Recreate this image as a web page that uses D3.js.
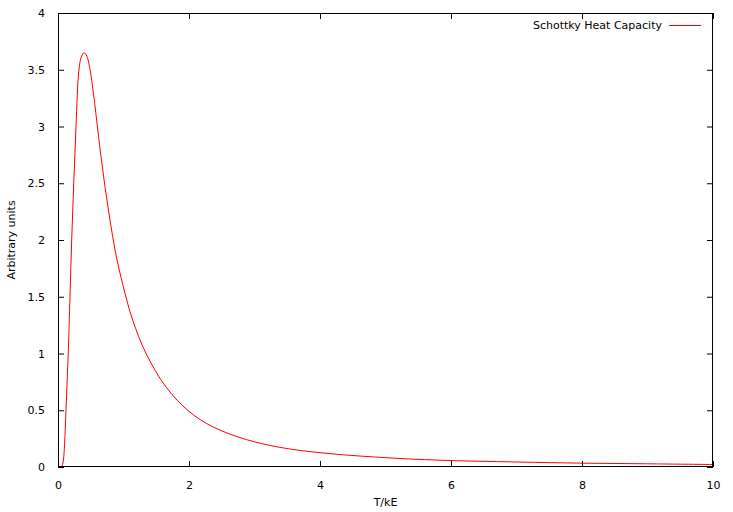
<!DOCTYPE html>
<html>
<head>
<meta charset="utf-8">
<script src="https://cdn.jsdelivr.net/npm/d3@7"></script>
<style>
  html, body { margin: 0; padding: 0; background: #fff; }
  svg { display: block; }
  text { font-family: "DejaVu Sans", sans-serif; font-size: 11px; fill: #000; }
</style>
</head>
<body>
<svg id="chart" width="733" height="512"></svg>
<script>
// Data
const temperature = [0, 0.03, 0.056, 0.08, 0.1, 0.122, 0.14, 0.158, 0.183, 0.209, 0.24, 0.275, 0.32, 0.36, 0.40, 0.44, 0.49, 0.55, 0.59, 0.65, 0.717, 0.794, 0.88, 0.997, 1.14, 1.343, 1.649, 2.0, 2.37, 2.88, 3.39, 4.0, 4.92, 5.83, 7.0, 8.0, 9.0, 10.0];
const heatCapacity = [0, 0, 0.003, 0.05, 0.2, 0.5, 0.76, 1.03, 1.5, 2.0, 2.5, 3.0, 3.5, 3.62, 3.65, 3.62, 3.5, 3.25, 3.057, 2.764, 2.47, 2.176, 1.883, 1.589, 1.295, 1.002, 0.705, 0.49, 0.352, 0.241, 0.173, 0.126, 0.085, 0.06, 0.044, 0.034, 0.028, 0.022];
const xTicks = [0, 2, 4, 6, 8, 10];
const yTicks = [0, 0.5, 1, 1.5, 2, 2.5, 3, 3.5, 4];
const seriesName = "Schottky Heat Capacity";
const xLabel = "T/kE";
const yLabel = "Arbitrary units";

(function () {
const svg = d3.select("#chart");
const mL = 58, mR = 713, mT = 13, mB = 467;

const x = d3.scaleLinear().domain([0, 10]).range([mL, mR]);
const y = d3.scaleLinear().domain([0, 4]).range([mB, mT]);

const tickLen = 6;

// curve
const pts = temperature.map((t, i) => [t, heatCapacity[i]]);
svg.append("path")
  .datum(pts)
  .attr("fill", "none")
  .attr("stroke", "#ff0000")
  .attr("stroke-width", 1)
  .attr("d", d3.line().x(d => x(d[0])).y(d => y(d[1])).curve(d3.curveCatmullRom.alpha(0.5)));

// axes (ticks inward, mirrored)
const axB = svg.append("g").attr("transform", `translate(0,${mB})`)
  .call(d3.axisBottom(x).tickValues(xTicks).tickSize(-tickLen).tickPadding(tickLen + 8).tickFormat(d3.format("d")));
const axT = svg.append("g").attr("transform", `translate(0,${mT})`)
  .call(d3.axisTop(x).tickValues(xTicks).tickSize(-tickLen).tickFormat(""));
const axL = svg.append("g").attr("transform", `translate(${mL},0)`)
  .call(d3.axisLeft(y).tickValues(yTicks).tickSize(-tickLen).tickPadding(tickLen + 7).tickFormat(d => String(d)));
const axR = svg.append("g").attr("transform", `translate(${mR},0)`)
  .call(d3.axisRight(y).tickValues(yTicks).tickSize(-tickLen).tickFormat(""));

[axB, axT, axL, axR].forEach(g => {
  g.select(".domain").remove();
  g.selectAll("line").attr("stroke", "#000").attr("stroke-width", 1);
  g.selectAll("text").attr("font-family", "DejaVu Sans, sans-serif").attr("font-size", 11).attr("fill", "#000");
});

// border
svg.append("rect")
  .attr("x", mL + 0.5).attr("y", mT + 0.5)
  .attr("width", mR - mL - 1).attr("height", mB - mT - 1)
  .attr("fill", "none").attr("stroke", "#000").attr("stroke-width", 1);

// axis labels
svg.append("text").attr("x", (mL + mR) / 2).attr("y", 506)
  .attr("text-anchor", "middle").text(xLabel);
svg.append("text")
  .attr("transform", `translate(15,${(mT + mB) / 2}) rotate(-90)`)
  .attr("text-anchor", "middle").text(yLabel);

// legend
svg.append("text").attr("x", 662).attr("y", 29)
  .attr("text-anchor", "end").text(seriesName);
svg.append("line").attr("x1", 669).attr("x2", 701).attr("y1", 25.5).attr("y2", 25.5)
  .attr("stroke", "#ff0000").attr("stroke-width", 1);
})();
</script>
</body>
</html>
